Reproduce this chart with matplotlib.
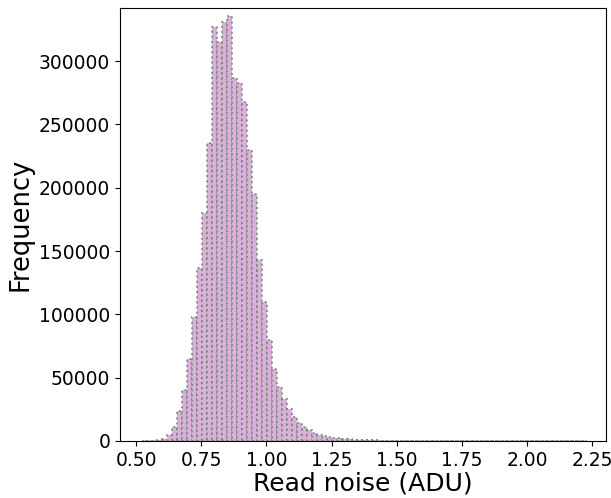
import numpy as np
import matplotlib
matplotlib.use("Agg")
import matplotlib.pyplot as plt

# Histogram of read noise (ADU): bin layout and counts
bin_start = 0.5219
bin_width = 0.01919
counts = [
    30, 100, 300, 700, 1800, 4500, 11000, 24000, 40000, 65000,
    98000, 137000, 180000, 235000, 327000, 315000, 331000, 336000, 287000, 283000,
    268000, 230000, 195000, 143000, 110000, 80000, 57000, 43000, 33000, 25000,
    19000, 14500, 11000, 8500, 6500, 5000, 4000, 3200, 2600, 2100,
    1700, 1400, 1100, 900, 700, 550, 450, 350, 280, 220,
    170, 130, 100, 80, 60, 50, 40, 35, 30, 25,
    20, 18, 15, 12, 10, 9, 8, 7, 6, 5,
    5, 4, 4, 3, 3, 3, 2, 2, 2, 2,
    1, 1, 1, 1, 1, 1, 1, 1, 1,
]
x_ticks = [0.50, 0.75, 1.00, 1.25, 1.50, 1.75, 2.00, 2.25]
x_label = "Read noise (ADU)"
y_label = "Frequency"

edges = bin_start + bin_width * np.arange(len(counts) + 1)
centers = 0.5 * (edges[:-1] + edges[1:])

fig = plt.figure(figsize=(6.11, 4.98), dpi=100)
ax = fig.add_axes([0.1964, 0.1145, 0.7954, 0.8695])

ax.hist(centers, bins=edges, weights=counts,
        facecolor="#d9b0d9", edgecolor=(0.4, 0.5, 0.4, 0.75),
        linestyle=":", linewidth=1.4)

ax.set_xlim(0.4386, 2.302)
ax.set_ylim(0, 342000)
ax.set_xticks(x_ticks)
ax.set_xticklabels([f"{t:.2f}" for t in x_ticks])
ax.tick_params(labelsize=13.5)
ax.set_xlabel(x_label, fontsize=18, labelpad=1)
ax.set_ylabel(y_label, fontsize=18.5, labelpad=4)

fig.savefig("out.png", dpi=100)
